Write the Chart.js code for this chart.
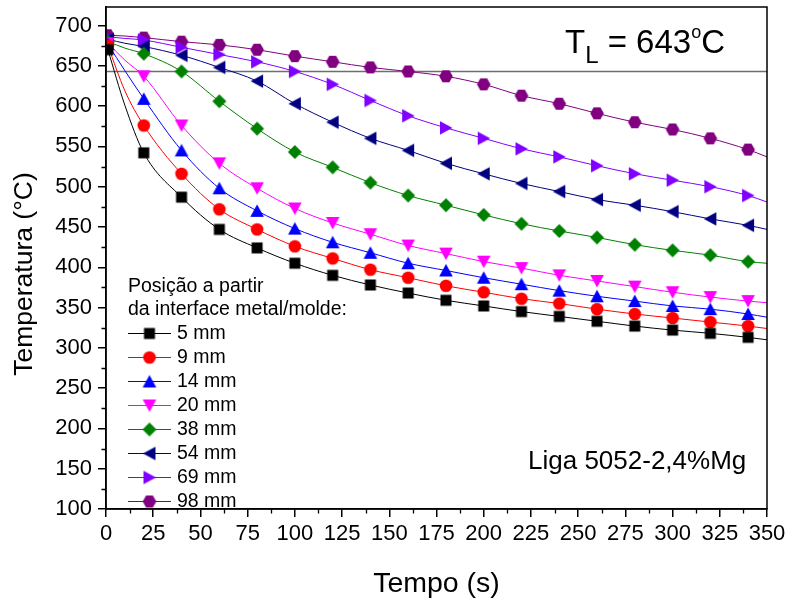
<!DOCTYPE html>
<html>
<head>
<meta charset="utf-8">
<title>Curvas de resfriamento</title>
<script src="https://cdn.jsdelivr.net/npm/chart.js@4.4.0/dist/chart.umd.min.js"></script>
<style>
  html, body { margin: 0; padding: 0; background: #fff; }
</style>
</head>
<body>
<canvas id="chart" width="790" height="599"></canvas>
<script>
// tempo (s): marks sit on the 20 s readings, the 10 s and 350 s readings only shape the curve
const times = [1, 10, 20, 40, 60, 80, 100, 120, 140, 160, 180, 200, 220, 240, 260, 280, 300, 320, 340, 350];

// temperatura (°C) per thermocouple position
const t5mm  = [670, 601, 542, 487, 447, 424, 405, 390, 378, 368, 359, 352, 345, 339, 333, 327, 322, 318, 313, 310];
const t9mm  = [675, 619, 576, 516, 472, 447, 426, 411, 397, 387, 377, 369, 361, 355, 348, 342, 337, 332, 327, 324];
const t14mm = [677, 644, 609, 545, 498, 470, 448, 431, 418, 405, 396, 387, 379, 371, 364, 358, 352, 348, 342, 338];
const t20mm = [678, 657, 637, 576, 529, 498, 473, 455, 441, 427, 417, 407, 399, 390, 383, 376, 369, 363, 358, 356];
const t38mm = [680, 672, 665, 643, 606, 572, 543, 524, 505, 489, 477, 465, 454, 445, 437, 428, 421, 415, 407, 405];
const t54mm = [683, 678, 674, 663, 648, 631, 603, 580, 560, 545, 529, 516, 504, 494, 484, 477, 469, 460, 452, 447];
const t69mm = [686, 684, 682, 673, 664, 655, 643, 627, 607, 588, 573, 560, 547, 537, 526, 516, 508, 500, 489, 481];
const t98mm = [688, 687, 685, 680, 676, 670, 662, 655, 648, 643, 637, 627, 613, 603, 591, 580, 571, 560, 546, 537];

const seriesLabels = ['5 mm', '9 mm', '14 mm', '20 mm', '38 mm', '54 mm', '69 mm', '98 mm'];
const seriesValues = [t5mm, t9mm, t14mm, t20mm, t38mm, t54mm, t69mm, t98mm];
const seriesColors = ['#000000', '#ff0000', '#0000ff', '#ff00ff', '#008000', '#000080', '#8000ff', '#800080'];
const seriesShapes = ['square', 'circle', 'up', 'down', 'diamond', 'left', 'right', 'hexagon'];

const liquidusTemp = 643;
const xTicks = [0, 25, 50, 75, 100, 125, 150, 175, 200, 225, 250, 275, 300, 325, 350];
const yTicks = [100, 150, 200, 250, 300, 350, 400, 450, 500, 550, 600, 650, 700];

const FONT = "'Liberation Sans', Arial, Helvetica, sans-serif";

// filled symbol drawn once into a small canvas, used both on the curves and in the key
function makeMarker(shape, color) {
  const c = document.createElement('canvas');
  c.width = 16;
  c.height = 16;
  const g = c.getContext('2d');
  g.fillStyle = color;
  g.translate(8, 8);
  g.beginPath();
  if (shape === 'square') {
    g.rect(-5.5, -5.5, 11, 11);
  } else if (shape === 'circle') {
    g.arc(0, 0, 6.3, 0, Math.PI * 2);
  } else if (shape === 'up') {
    g.moveTo(0, -6.5); g.lineTo(6.8, 6); g.lineTo(-6.8, 6);
  } else if (shape === 'down') {
    g.moveTo(0, 6.5); g.lineTo(6.8, -6); g.lineTo(-6.8, -6);
  } else if (shape === 'left') {
    g.moveTo(-6.5, 0); g.lineTo(6, -6.8); g.lineTo(6, 6.8);
  } else if (shape === 'right') {
    g.moveTo(6.5, 0); g.lineTo(-6, -6.8); g.lineTo(-6, 6.8);
  } else if (shape === 'diamond') {
    g.moveTo(0, -7); g.lineTo(7, 0); g.lineTo(0, 7); g.lineTo(-7, 0);
  } else {
    for (let i = 0; i < 6; i++) {
      const a = Math.PI / 3 * i;
      const px = 6.8 * Math.cos(a), py = 6.8 * Math.sin(a);
      if (i === 0) g.moveTo(px, py); else g.lineTo(px, py);
    }
  }
  g.closePath();
  g.fill();
  return c;
}

const markers = seriesShapes.map((s, i) => makeMarker(s, seriesColors[i]));

const datasets = seriesValues.map((vals, i) => ({
  label: seriesLabels[i],
  data: vals.map((v, k) => ({ x: times[k], y: v })),
  borderColor: seriesColors[i],
  backgroundColor: seriesColors[i],
  borderWidth: 1,
  cubicInterpolationMode: 'monotone',
  pointStyle: markers[i],
  pointRadius: (ctx) => {
    const t = times[ctx.dataIndex];
    return (t === 1 || t % 20 === 0) && t <= 340 ? 6 : 0;
  },
  pointHoverRadius: 0
}));

// liquidus line, last so it is painted underneath the curves
datasets.push({
  label: 'TL',
  data: [{ x: 0, y: liquidusTemp }, { x: 350, y: liquidusTemp }],
  borderColor: '#6e6e6e',
  borderWidth: 1.6,
  pointRadius: 0,
  isRef: true
});

// box around the plot and the short minor ticks
const framePlugin = {
  id: 'frame',
  afterDatasetsDraw(chart) {
    const { ctx, chartArea: a, scales } = chart;
    ctx.save();
    ctx.strokeStyle = '#000';
    ctx.lineWidth = 1.5;
    ctx.strokeRect(a.left, a.top, a.right - a.left, a.bottom - a.top);
    ctx.beginPath();
    for (let v = 125; v < 700; v += 50) {
      const y = Math.round(scales.y.getPixelForValue(v)) + 0.5;
      ctx.moveTo(a.left - 4.5, y);
      ctx.lineTo(a.left, y);
    }
    for (let v = 12.5; v < 350; v += 25) {
      const x = Math.round(scales.x.getPixelForValue(v)) + 0.5;
      ctx.moveTo(x, a.bottom);
      ctx.lineTo(x, a.bottom + 4.5);
    }
    ctx.lineWidth = 1.3;
    ctx.stroke();
    ctx.restore();
  }
};

// axis titles, the key and the two notes
const notesPlugin = {
  id: 'notes',
  afterDraw(chart) {
    const { ctx, chartArea: a } = chart;
    ctx.save();
    ctx.fillStyle = '#000';

    ctx.font = '28.5px ' + FONT;
    ctx.textAlign = 'center';
    ctx.textBaseline = 'alphabetic';
    ctx.fillText('Tempo (s)', (a.left + a.right) / 2, 592);

    ctx.save();
    ctx.translate(32, 274);
    ctx.rotate(-Math.PI / 2);
    ctx.font = '26.5px ' + FONT;
    ctx.fillText('Temperatura (\u00B0C)', 0, 0);
    ctx.restore();

    // T_L = 643 °C
    ctx.textAlign = 'left';
    let x = 565;
    ctx.font = '33px ' + FONT;
    ctx.fillText('T', x, 53);
    x += ctx.measureText('T').width;
    ctx.font = '24px ' + FONT;
    ctx.fillText('L', x, 63);
    x += ctx.measureText('L').width;
    ctx.font = '33px ' + FONT;
    const mid = ' = ' + liquidusTemp;
    ctx.fillText(mid, x, 53);
    x += ctx.measureText(mid).width;
    ctx.font = '18px ' + FONT;
    ctx.fillText('o', x, 38);
    x += ctx.measureText('o').width;
    ctx.font = '33px ' + FONT;
    ctx.fillText('C', x, 53);

    ctx.font = '26px ' + FONT;
    ctx.fillText('Liga 5052-2,4%Mg', 528, 469);

    // key
    ctx.font = '19.5px ' + FONT;
    ctx.textBaseline = 'middle';
    ctx.fillText('Posi\u00E7\u00E3o a partir', 128, 287);
    ctx.fillText('da interface metal/molde:', 128, 310);
    chart.data.datasets.forEach((ds, i) => {
      if (ds.isRef) return;
      const y = 333 + i * 24;
      ctx.strokeStyle = ds.borderColor;
      ctx.lineWidth = 1;
      ctx.beginPath();
      ctx.moveTo(128, y + 0.5);
      ctx.lineTo(171, y + 0.5);
      ctx.stroke();
      ctx.drawImage(markers[i], 149.5 - 8, y - 7.5);
      ctx.fillText(ds.label, 177, y + 1);
    });
    ctx.restore();
  }
};

const tickFont = { family: FONT, size: 22 };

new Chart(document.getElementById('chart').getContext('2d'), {
  type: 'line',
  data: { datasets },
  options: {
    responsive: false,
    animation: false,
    events: [],
    layout: { padding: { top: 6, right: 23, left: 0, bottom: 0 } },
    plugins: {
      legend: { display: false },
      tooltip: { enabled: false }
    },
    scales: {
      x: {
        type: 'linear',
        min: 0,
        max: 350,
        afterBuildTicks: (s) => { s.ticks = xTicks.map(v => ({ value: v })); },
        afterFit: (s) => { s.height = 90; s.paddingLeft = 0; s.paddingRight = 0; },
        ticks: { font: tickFont, color: '#000', padding: 4, maxRotation: 0, autoSkip: false },
        grid: { drawOnChartArea: false, drawTicks: true, tickLength: 8, color: '#000', lineWidth: 1.5 },
        border: { display: true, color: '#000', width: 1.5 }
      },
      y: {
        type: 'linear',
        min: 100,
        max: 723,
        afterBuildTicks: (s) => { s.ticks = yTicks.map(v => ({ value: v })); },
        afterFit: (s) => { s.width = 106; s.paddingTop = 0; s.paddingBottom = 0; },
        ticks: { font: tickFont, color: '#000', padding: 6 },
        grid: { drawOnChartArea: false, drawTicks: true, tickLength: 8, color: '#000', lineWidth: 1.5 },
        border: { display: true, color: '#000', width: 1.5 }
      }
    }
  },
  plugins: [framePlugin, notesPlugin]
});
</script>
</body>
</html>
